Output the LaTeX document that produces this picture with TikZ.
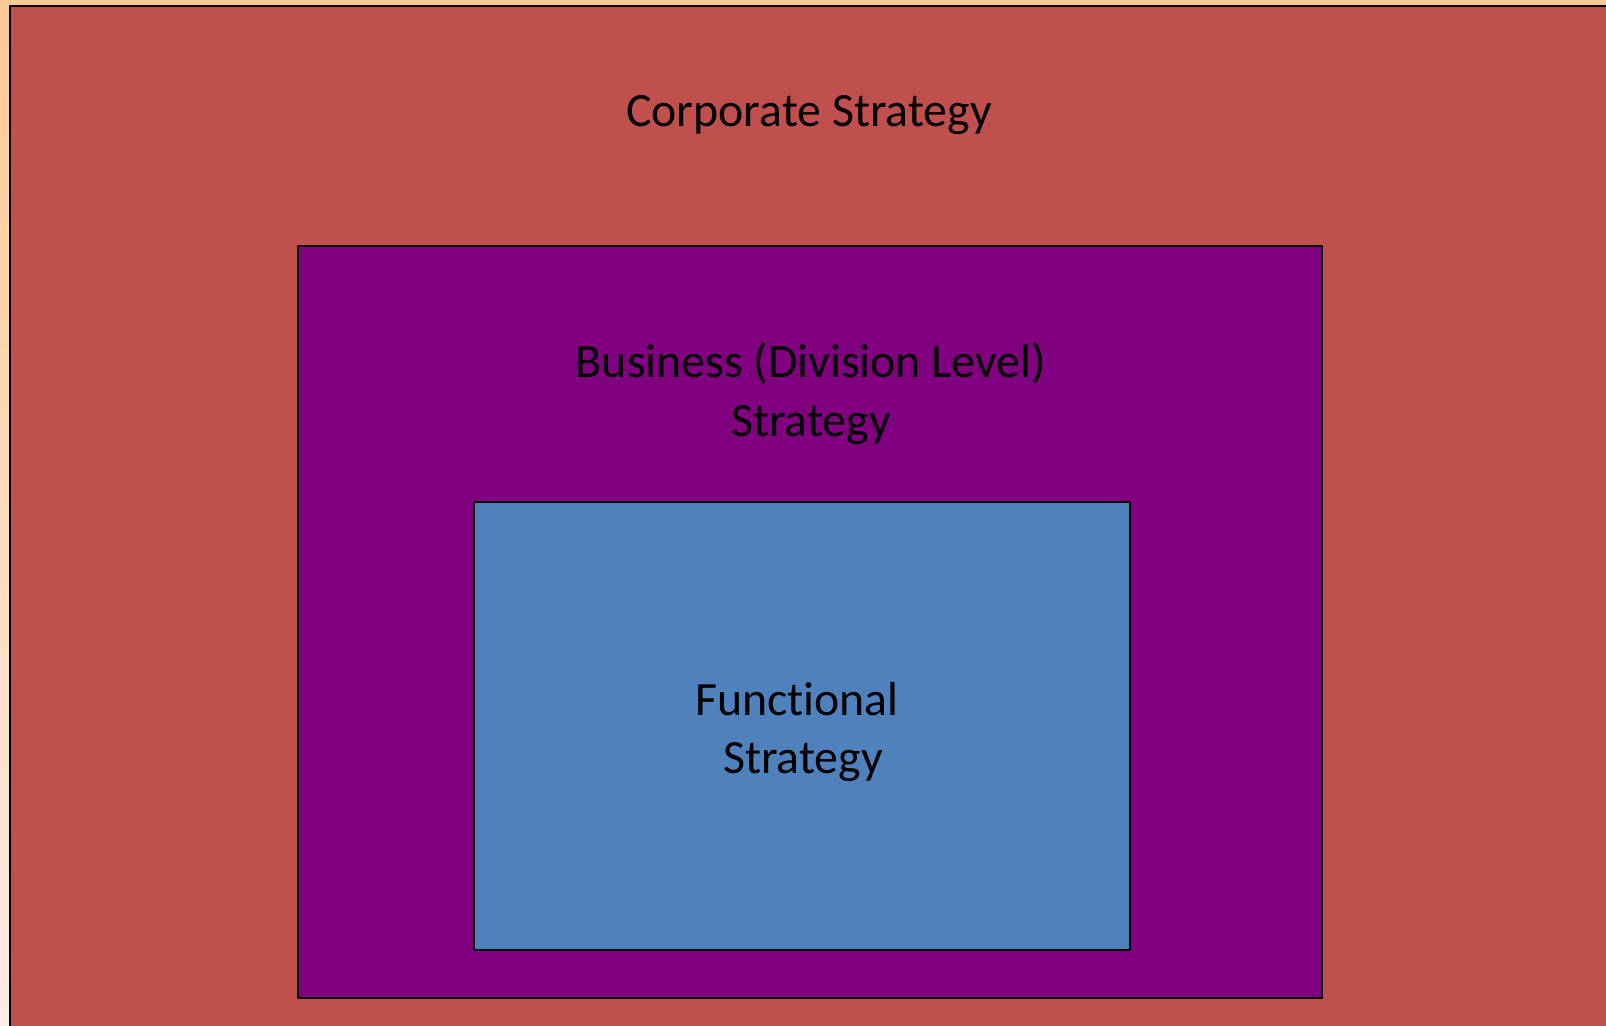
\documentclass[tikz,border=0pt]{standalone}
\usepackage{fontspec}
\setmainfont[Ligatures=NoCommon]{Carlito}
\definecolor{corpred}{HTML}{C0504D}
\definecolor{bizpurple}{HTML}{800080}
\definecolor{funcblue}{HTML}{4F81BD}
\definecolor{peach}{HTML}{FFC993}
\definecolor{blush}{HTML}{FDEBE6}
\begin{document}
\begin{tikzpicture}[x=.5pt, y=-.5pt, line join=round, font=\fontsize{23.9}{29.4}\selectfont,
	level/.style={draw=black, line width=1.2pt},
	label/.style={align=center, inner sep=0pt, text=black}]
	\useasboundingbox (0,0) rectangle (1606,1026);
	\clip (0,0) rectangle (1606,1026);
	\shade[top color=peach, bottom color=blush] (0,0) rectangle (1606,1026);
	% nested strategy levels
	\draw[level, fill=corpred](10,6) rectangle (1640,1060);
	\draw[level, fill=bizpurple](298,246) rectangle (1322,998);
	\draw[level, fill=funcblue](474,502) rectangle (1130,950);
	\node[label] (corp) at (809,115) {Corporate Strategy};
	\node[label] (biz) at (811,394) {Business (Division Level)\\Strategy};
	\node[label] (func) at (803,732) {Functional\hspace*{.25em}\\ Strategy};
\end{tikzpicture}
\end{document}
